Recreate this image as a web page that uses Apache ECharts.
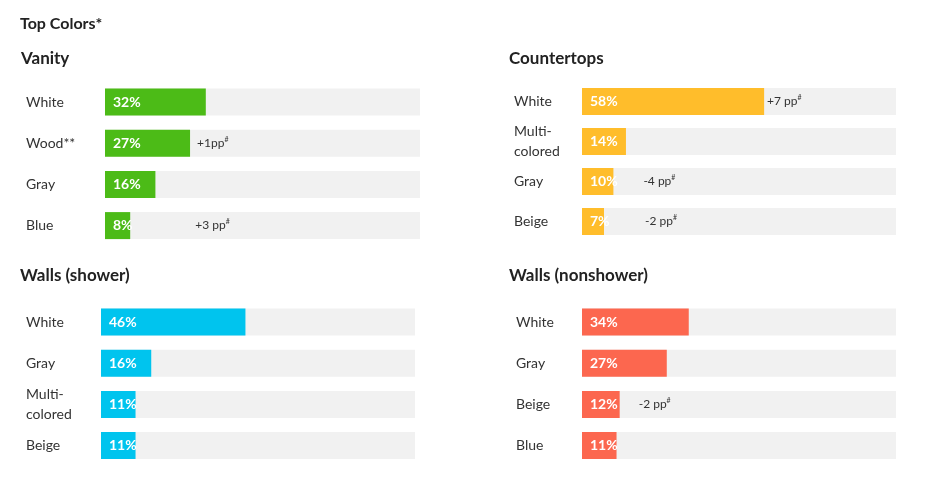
<!DOCTYPE html>
<html>
<head>
<meta charset="utf-8">
<script src="https://cdn.jsdelivr.net/npm/echarts@6/dist/echarts.min.js"></script>
<style>html,body{margin:0;padding:0;background:#fff}#c{width:942px;height:500px}</style>
</head>
<body>
<div id="c"></div>
<script>
// ---- data ----
const vanityCats = ['White', 'Wood**', 'Gray', 'Blue'];
const vanityVals = [32, 27, 16, 8];
const vanityDelta = ['', '+1pp', '', '+3 pp'];

const counterCats = ['White', 'Multi-\ncolored', 'Gray', 'Beige'];
const counterVals = [58, 14, 10, 7];
const counterDelta = ['+7 pp', '', '-4 pp', '-2 pp'];

const showerCats = ['White', 'Gray', 'Multi-\ncolored', 'Beige'];
const showerVals = [46, 16, 11, 11];
const showerDelta = ['', '', '', ''];

const nonshowerCats = ['White', 'Gray', 'Beige', 'Blue'];
const nonshowerVals = [34, 27, 12, 11];
const nonshowerDelta = ['', '', '-2 pp', ''];

// ---- layout / style ----
const FONT = 'Lato';
const panels = [
  {title: 'Vanity', tx: 21, ty: 50, cats: vanityCats, vals: vanityVals, delta: vanityDelta,
   color: '#4cbb17', left: 105, width: 315, top: 81.4, height: 164.8, labelX: 26, dOff: [0, 6, 0, 64]},
  {title: 'Countertops', tx: 509, ty: 50, cats: counterCats, vals: counterVals, delta: counterDelta,
   color: '#ffbd2b', left: 582, width: 314, top: 81.5, height: 160, labelX: 514, dOff: [2, 0, 29, 40]},
  {title: 'Walls (shower)', tx: 20, ty: 267, cats: showerCats, vals: showerVals, delta: showerDelta,
   color: '#00c4ee', left: 101, width: 314, top: 301.4, height: 164.8, labelX: 26, dOff: [0, 0, 0, 0]},
  {title: 'Walls (nonshower)', tx: 509, ty: 267, cats: nonshowerCats, vals: nonshowerVals, delta: nonshowerDelta,
   color: '#fc674f', left: 582, width: 314, top: 301.4, height: 164.8, labelX: 516, dOff: [0, 0, 18, 0]}
];

const titles = [{
  text: 'Top Colors*', left: 20, top: 16, padding: 0,
  textStyle: {fontFamily: FONT, fontSize: 16, fontWeight: 'bold', color: '#222'}
}];
const grids = [], xAxes = [], yAxes = [], series = [];
panels.forEach((p, i) => {
  titles.push({text: p.title, left: p.tx, top: p.ty, padding: 0,
    textStyle: {fontFamily: FONT, fontSize: 17, fontWeight: 'bold', color: '#222'}});
  grids.push({left: p.left, width: p.width, top: p.top, height: p.height,
    containLabel: false, outerBoundsMode: 'none'});
  xAxes.push({type: 'value', gridIndex: i, min: 0, max: 100, show: false});
  const lblStyle = {align: 'left', fontFamily: FONT, fontSize: 14, color: '#333', lineHeight: 20};
  yAxes.push({type: 'category', gridIndex: i, inverse: true,
    data: p.cats.map(c => c.indexOf('\n') >= 0
      ? {value: c, textStyle: Object.assign({}, lblStyle, {padding: [6, 0, 0, 0]})} : c),
    axisLine: {show: false}, axisTick: {show: false}, splitLine: {show: false},
    axisLabel: Object.assign({margin: p.left - p.labelX}, lblStyle)});
  series.push({
    type: 'bar', xAxisIndex: i, yAxisIndex: i, data: p.vals, barWidth: 27,
    itemStyle: {color: p.color},
    showBackground: true, backgroundStyle: {color: '#f1f1f1'},
    label: {show: true, position: 'insideLeft', distance: 8, formatter: '{c}%',
      fontFamily: FONT, fontSize: 14, fontWeight: 'bold', color: '#fff'},
    silent: true, animation: false
  });
  series.push({
    type: 'bar', xAxisIndex: i, yAxisIndex: i, barWidth: 27, barGap: '-100%',
    data: p.vals.map((v, k) => ({
      value: v,
      label: {show: !!p.delta[k], offset: [p.dOff[k], 0]}
    })),
    itemStyle: {color: 'rgba(0,0,0,0)'},
    label: {position: 'right', distance: 1,
      formatter: (prm) => '{d|' + p.delta[prm.dataIndex] + '}{s|#}',
      rich: {d: {fontFamily: FONT, fontSize: 12, color: '#333'},
             s: {fontFamily: FONT, fontSize: 7, color: '#333', verticalAlign: 'top', padding: [0, 0, 7, 0]}}},
    silent: true, animation: false
  });
});

const chart = echarts.init(document.getElementById('c'), null, {renderer: 'canvas'});
chart.setOption({
  animation: false,
  title: titles, grid: grids, xAxis: xAxes, yAxis: yAxes, series: series
});
</script>
</body>
</html>
